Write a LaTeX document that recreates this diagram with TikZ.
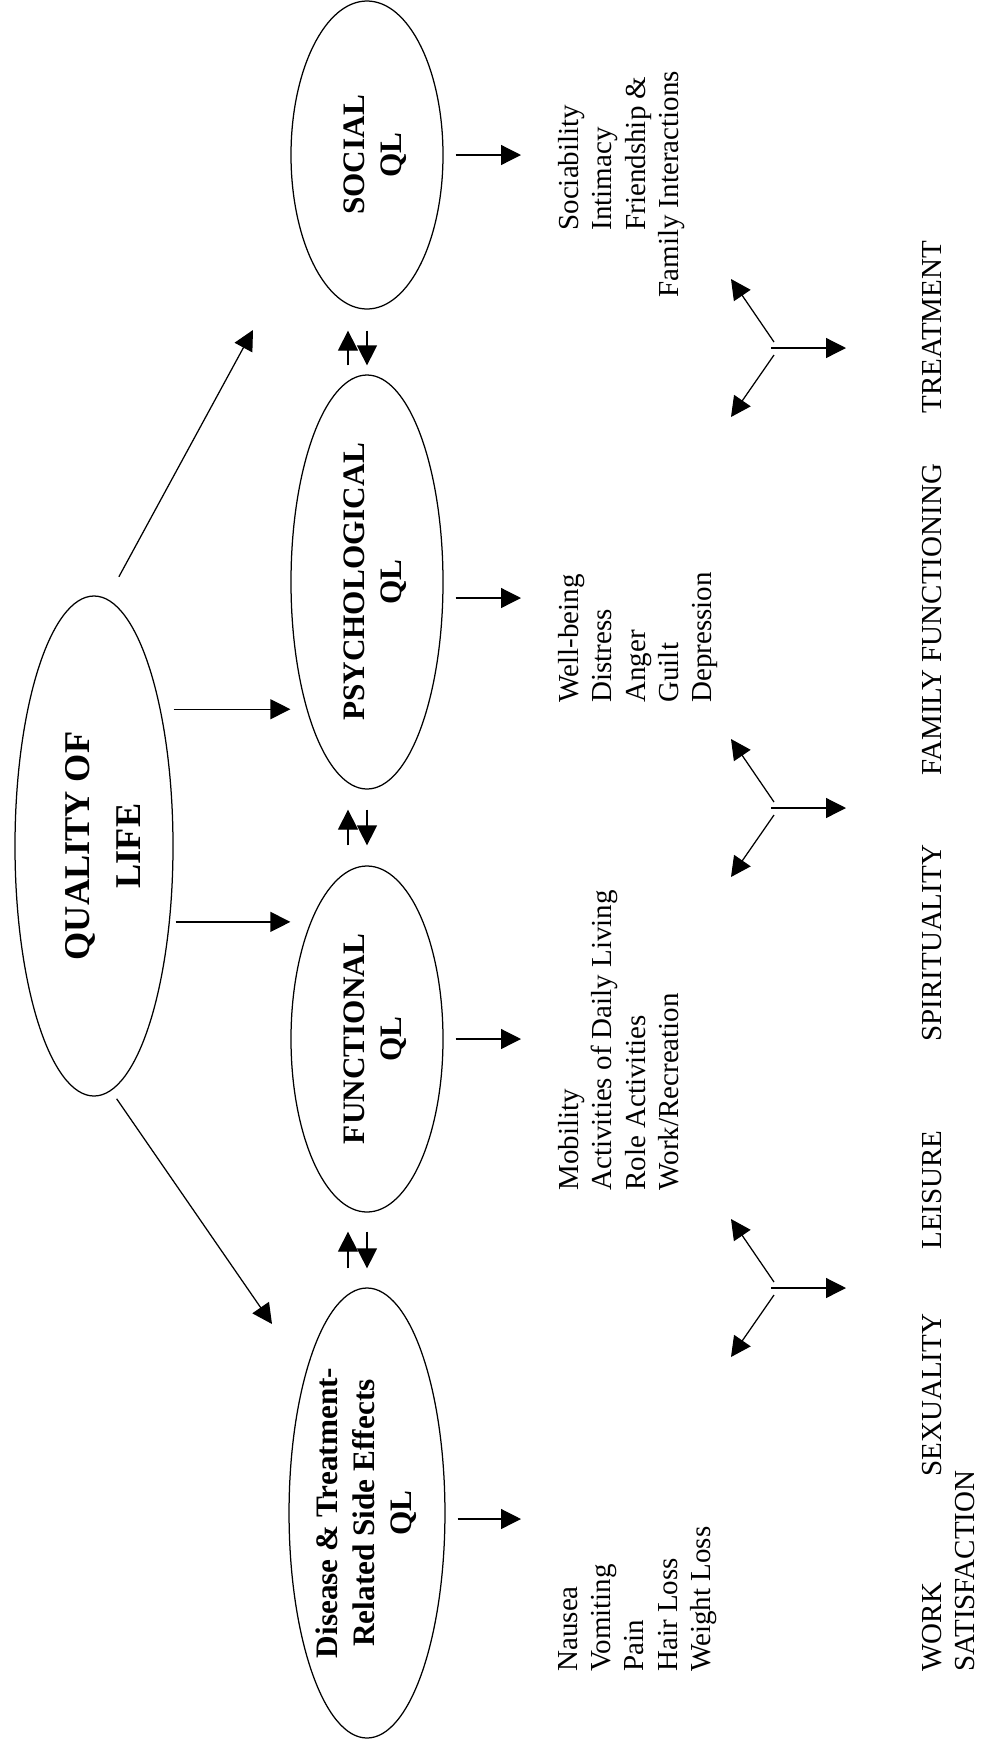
\documentclass[tikz,border=0pt]{standalone}
\usepackage{fontspec}
\setmainfont{Liberation Serif}
\usetikzlibrary{shapes.geometric,arrows.meta}

% upright text block for the ovals (optional shift to the right)
\newcommand\vtext[2][0pt]{\rotatebox{90}{\raisebox{-#1}[\height][\depth]{\begin{tabular}{@{}c@{}}#2\end{tabular}}}}

\begin{document}
\begin{tikzpicture}[x=0.4pt,y=-0.4pt,
    arr/.style={-{Triangle[length=8pt,width=8pt]},line width=0.5pt},
    oval/.style={draw,ellipse,line width=0.5pt,inner sep=0pt,minimum width=60.8pt,
      font=\fontsize{12.5}{14.7}\selectfont\bfseries},
    lst/.style={rotate=90,anchor=north west,inner sep=0pt,align=left,
      font=\fontsize{11.6}{13.3}\selectfont}]
        \useasboundingbox (0,0) rectangle (981,1741);

        % draw the main oval
        \node[oval,minimum width=63.2pt,minimum height=200pt,font=\fontsize{14.5}{20}\selectfont\bfseries]
            (ql) at (94,846) {\vtext[4.4pt]{QUALITY OF\\LIFE}};

        % draw the four domains
        \node[oval,minimum height=123.2pt] (soc) at (367,155) {\vtext[3.6pt]{SOCIAL\\QL}};
        \node[oval,minimum height=165.6pt] (psy) at (367,582) {\vtext[3.6pt]{PSYCHOLOGICAL\\QL}};
        \node[oval,minimum height=138.4pt] (fun) at (367,1039) {\vtext[3.6pt]{FUNCTIONAL\\QL}};
        \node[oval,minimum height=180pt] (dis) at (367,1513)
            {\vtext{Disease \& Treatment-\\Related Side Effects\\QL}};

        % the lists of each domain
        \node[lst] (soclist) at (558,298) {\hspace*{26.8pt}Sociability\\\hspace*{26.8pt}Intimacy\\
            \hspace*{26.8pt}Friendship \&\\Family Interactions};
        \node[lst] (psylist) at (558,703) {Well-being\\Distress\\Anger\\Guilt\\Depression};
        \node[lst] (funlist) at (558,1191) {Mobility\\Activities of Daily Living\\Role Activities\\Work/Recreation};
        \node[lst] (dislist) at (558,1672) {Nausea\\Vomiting\\Pain\\Hair Loss\\Weight Loss};

        % the outside factors
        \node[lst] (work) at (922,1672) {WORK\\SATISFACTION};
        \foreach \name/\y/\txt in {
            sex/1477/SEXUALITY,
            leis/1250/LEISURE,
            spir/1042/SPIRITUALITY,
            fam/776/FAMILY FUNCTIONING,
            treat/414/TREATMENT}
                \node[lst] (\name) at (922,\y) {\txt};

        % arrows out of the main oval
        \coordinate (qsoc) at (253,330);
        \coordinate (qdis) at (272,1324);
        \draw[arr,shorten <=10pt] (ql.87) -- (qsoc);
        \draw[arr,shorten <=5.2pt] (ql.64) -- (ql.64 -| psy.west);
        \draw[arr,shorten <=2.3pt] (ql.-45) -- (ql.-45 -| fun.west);
        \draw[arr,shorten <=3.9pt] (ql.-86) -- (qdis);

        % arrows from each domain to its list
        \draw[arr,shorten <=4.8pt,shorten >=14.8pt] (soc.east) -- (soc.east -| soclist.north);
        \draw[arr,shorten <=4.8pt,shorten >=14.8pt] ([yshift=-6.4pt]psy.east) -- ([yshift=-6.4pt]psy.east -| psylist.north);
        \draw[arr,shorten <=4.8pt,shorten >=14.8pt] (fun.east) -- (fun.east -| funlist.north);
        \draw[arr,shorten <=4.8pt,shorten >=14.8pt] ([yshift=-2.4pt]dis.east) -- ([yshift=-2.4pt]dis.east -| dislist.north);

        % two-way arrows between the domains
        \foreach \a/\b/\s/\t in {dis/fun/7.6pt/7.6pt, fun/psy/8pt/8pt, psy/soc/3.6pt/8.4pt} {
                \draw[arr,shorten <=\s,shorten >=\t] ([xshift=-7.6pt]\a.north) -- ([xshift=-7.6pt]\b.south);
                \draw[arr,shorten <=\t,shorten >=\s] (\b.south) -- (\a.north);
        }

        % three-way arrows
        \foreach \i/\y in {1/348, 2/808, 3/1288} {
                \coordinate (hub\i) at (771,\y);
                \draw[arr] (hub\i) -- ++(75,0);
                \draw[arr] ([shift={(3,-6)}]hub\i) -- ++(-43,-63);
                \draw[arr] ([shift={(3,7)}]hub\i) -- ++(-43,62);
        }
\end{tikzpicture}
\end{document}
